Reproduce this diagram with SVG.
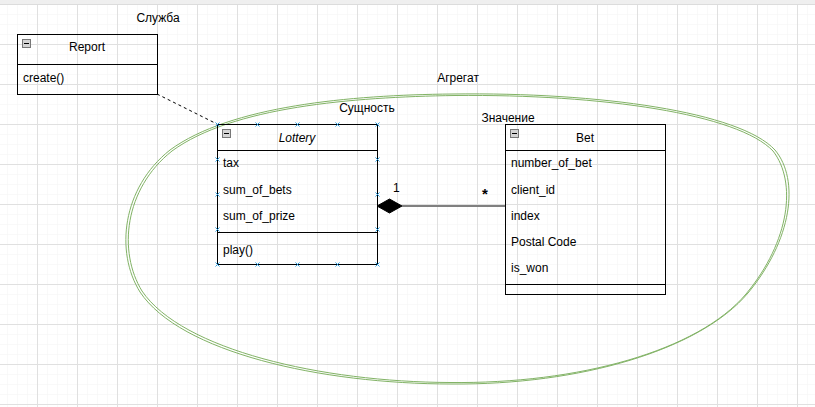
<svg xmlns="http://www.w3.org/2000/svg" width="815" height="407" viewBox="0 0 815 407">
<style>
text{font-family:"Liberation Sans",Arial,sans-serif;font-size:12px;fill:#000}
.c{text-anchor:middle}
.box{fill:none;stroke:#000;stroke-width:1}
.mk{stroke:#2f9fe0;stroke-width:1;fill:none}
.blob{fill:none;stroke:#82b366;stroke-width:1}
</style>
<defs>
<pattern id="minor" x="7" y="4" width="10" height="10" patternUnits="userSpaceOnUse">
<path d="M0 0V10M0 0H10" stroke="#f3f3f3" stroke-width="1" fill="none"/>
</pattern>
<pattern id="major" x="37" y="4" width="40" height="40" patternUnits="userSpaceOnUse">
<path d="M0.5 0V40M0 0.5H40" stroke="#e0e0e0" stroke-width="1" fill="none"/>
</pattern>
<g id="col">
<rect x="0.5" y="0.5" width="8" height="8" fill="#d4d4d4" stroke="#777"/>
<path d="M2 4.5H7" stroke="#000" stroke-width="1"/>
</g>
<path id="x" d="M-2 -2L2 2M-2 2L2 -2" class="mk"/>
</defs>
<rect width="815" height="407" fill="#fff"/>
<rect width="815" height="407" fill="url(#minor)"/>
<rect width="815" height="407" fill="url(#major)"/>
<rect width="815" height="4" fill="#efefef"/>
<path d="M0 4.5H815" stroke="#dcdcdc"/>

<g id="aggregate">
<path class="blob" d="M452 94C600 92 740 112 775 150C800 180 792 240 748 293C700 350 580 385 452 384C320 384 180 352 140 292C115 252 122 188 170 150C230 106 350 95 452 94Z"/>
<path class="blob" d="M455 95.5C602 94 738 114 773 151C797 182 790 241 746 294C698 351 578 384 450 382.5C322 382 182 350 142 291C118 252 124 189 172 151C232 107 352 97 455 95.5Z"/>
<text class="c" x="458" y="82">Агрегат</text>
</g>

<g id="connectors">
<path d="M157 94L217 124" stroke="#000" stroke-width="1" stroke-dasharray="3 3" fill="none"/>
<path d="M402 206H505" stroke="#808080" stroke-width="2" fill="none"/>
<path d="M377 206L389.5 199L402 206L389.5 213Z" fill="#000" stroke="#000"/>
<text x="393" y="192">1</text>
<text x="482" y="199" style="font-size:15px;font-weight:bold">*</text>
</g>

<g id="report">
<text class="c" x="158" y="22">Служба</text>
<rect class="box" x="17.5" y="34.5" width="140" height="60"/>
<path d="M17.5 64.5H157.5" stroke="#000"/>
<use href="#col" x="22" y="39"/>
<text class="c" x="87" y="51">Report</text>
<text x="23" y="82">create()</text>
</g>

<g id="lottery">
<text class="c" x="367" y="112">Сущность</text>
<rect class="box" x="217.5" y="124.5" width="160" height="140"/>
<path d="M217.5 150.5H377.5M217.5 232.5H377.5" stroke="#000"/>
<use href="#col" x="222" y="129"/>
<text class="c" x="297" y="142" style="font-style:italic">Lottery</text>
<text x="223" y="167">tax</text>
<text x="223" y="194">sum_of_bets</text>
<text x="223" y="220">sum_of_prize</text>
<text x="223" y="254">play()</text>
<use href="#x" x="217.5" y="124.5"/><use href="#x" x="257.5" y="124.5"/><use href="#x" x="297.5" y="124.5"/><use href="#x" x="337.5" y="124.5"/><use href="#x" x="377.5" y="124.5"/>
<use href="#x" x="217.5" y="264.5"/><use href="#x" x="257.5" y="264.5"/><use href="#x" x="297.5" y="264.5"/><use href="#x" x="337.5" y="264.5"/><use href="#x" x="377.5" y="264.5"/>
<use href="#x" x="217.5" y="159.5"/><use href="#x" x="217.5" y="194.5"/><use href="#x" x="217.5" y="229.5"/>
<use href="#x" x="377.5" y="159.5"/><use href="#x" x="377.5" y="194.5"/><use href="#x" x="377.5" y="229.5"/>
</g>

<g id="bet">
<text class="c" x="508" y="122">Значение</text>
<rect class="box" x="505.5" y="124.5" width="160" height="170"/>
<path d="M505.5 150.5H665.5M505.5 284.5H665.5" stroke="#000"/>
<use href="#col" x="510" y="129"/>
<text class="c" x="585" y="142">Bet</text>
<text x="511" y="167">number_of_bet</text>
<text x="511" y="194">client_id</text>
<text x="511" y="220">index</text>
<text x="511" y="246">Postal Code</text>
<text x="511" y="272">is_won</text>
</g>
</svg>
